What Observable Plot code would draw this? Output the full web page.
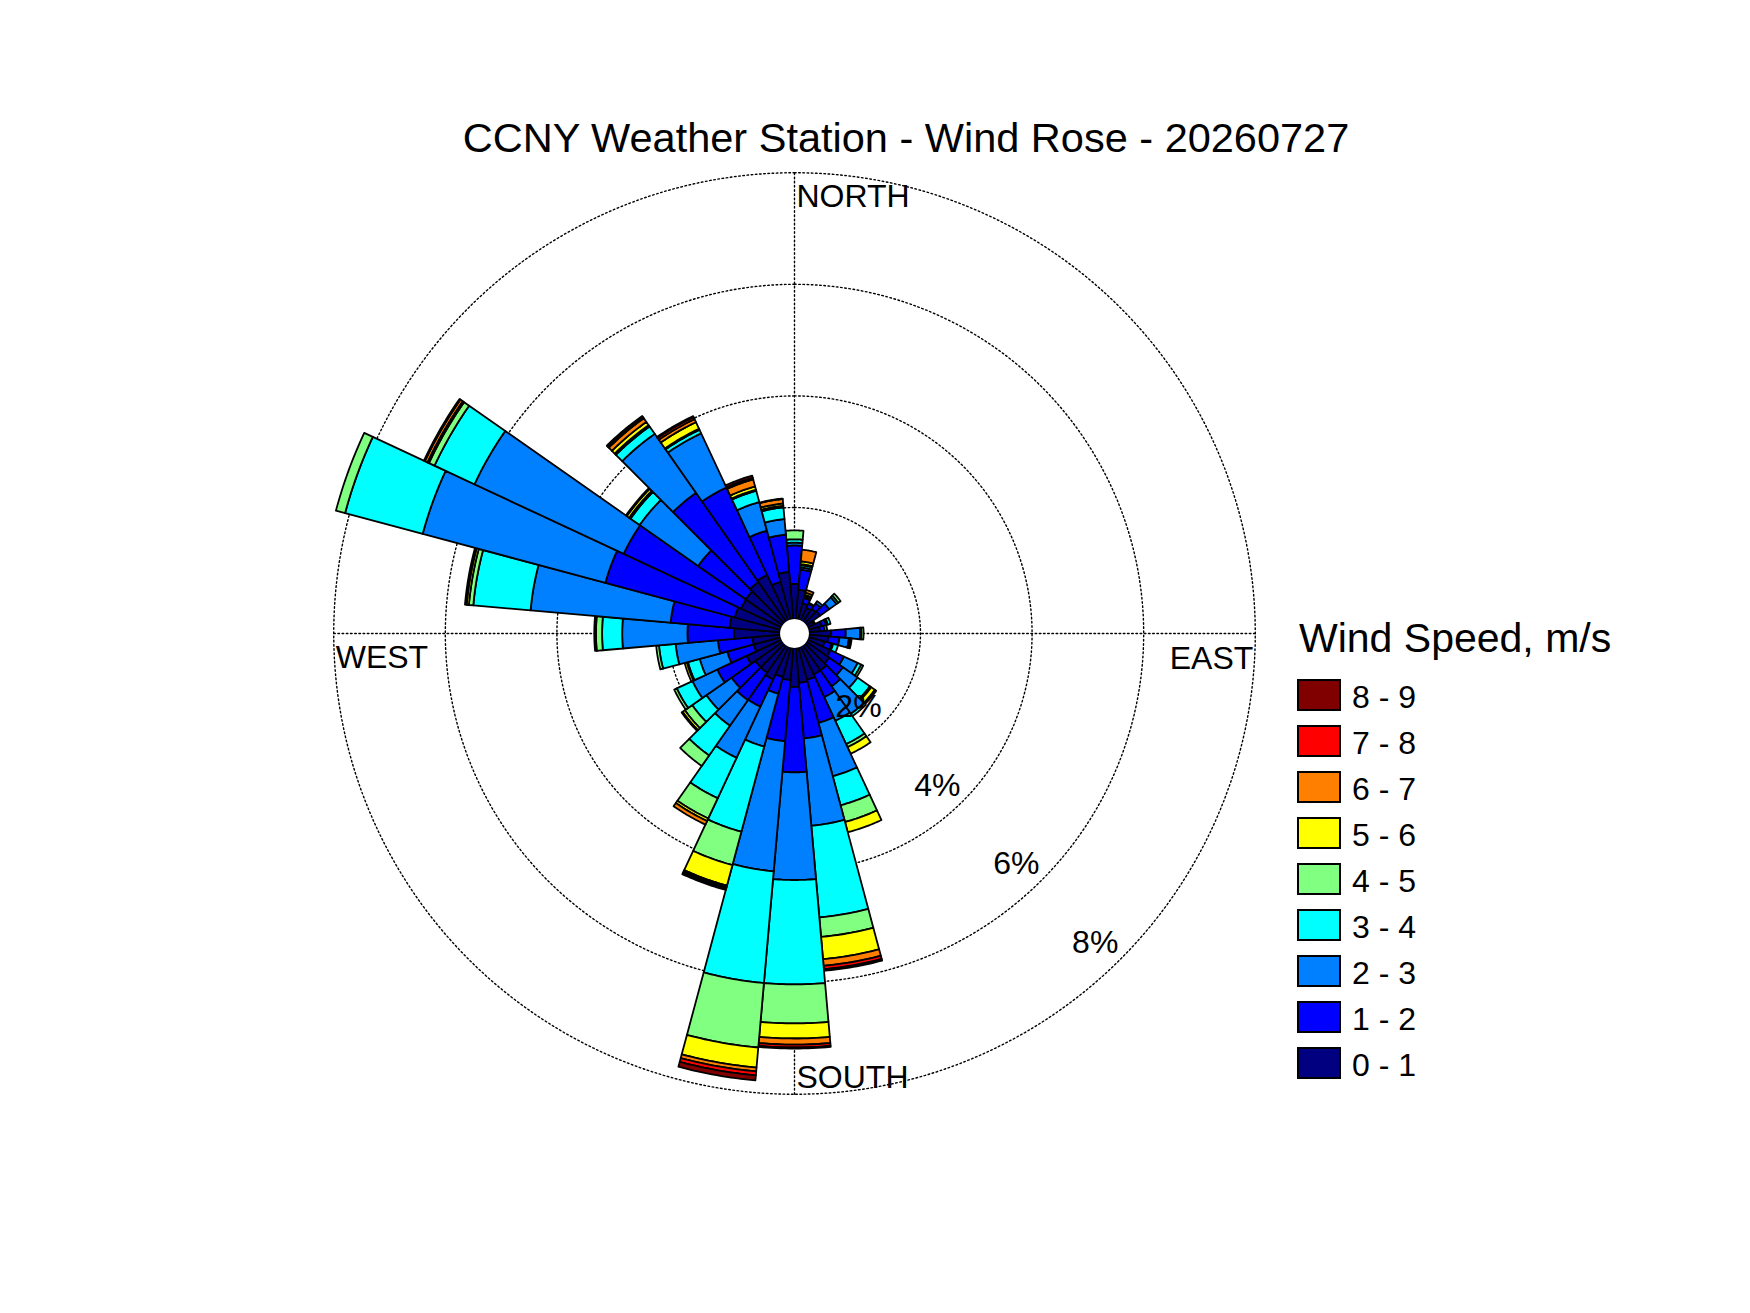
<!DOCTYPE html>
<html>
<head>
<meta charset="utf-8">
<script src="https://cdn.jsdelivr.net/npm/d3@7"></script>
<script src="https://cdn.jsdelivr.net/npm/@observablehq/plot@0.6"></script>
<style>
  html, body { margin: 0; padding: 0; background: #fff; }
  body { font-family: "Liberation Sans", Arial, Helvetica, sans-serif; color: #000; }
  #wrap { position: relative; width: 1750px; height: 1313px; overflow: hidden; }
  #chart { position: absolute; left: 0; top: 0; }
  .abs { position: absolute; white-space: nowrap; line-height: 1; }
  .sw { position: absolute; box-sizing: border-box; border: 2px solid #000; }
</style>
</head>
<body>
<div id="wrap"></div>
<script>
// ---------------- DATA ----------------
const title = "CCNY Weather Station - Wind Rose - 20260727";
const legendTitle = "Wind Speed, m/s";
const directions = [0, 10, 20, 30, 40, 50, 60, 70, 80, 90, 100, 110, 120, 130, 140, 150, 160, 170,
                    180, 190, 200, 210, 220, 230, 240, 250, 260, 270, 280, 290, 300, 310, 320, 330, 340, 350];
const speedBins = ["0 - 1", "1 - 2", "2 - 3", "3 - 4", "4 - 5", "5 - 6", "6 - 7", "7 - 8", "8 - 9"];
const binColors = ["#000080", "#0000FF", "#0080FF", "#00FFFF", "#80FF80", "#FFFF00", "#FF8000", "#FF0000", "#800000"];
// frequency (%) per direction for each speed bin
const speed0to1 = [0.63,0.53,0.30,0.25,0.28,0.30,0.12,0.25,0.20,0.40,0.35,0.30,0.45,0.50,0.55,0.55,0.60,0.63,
                   0.70,0.58,0.55,0.65,0.60,0.60,0.69,0.50,0.50,0.83,0.91,0.85,0.80,0.81,0.87,0.90,0.70,0.85];
const speed1to2 = [0.69,0.36,0.10,0.08,0.12,0.20,0.03,0.08,0.08,0.26,0.20,0.13,0.27,0.30,0.35,0.45,0.80,1.00,
                   1.53,1.10,0.31,0.54,0.60,0.52,0.58,0.49,0.62,0.83,1.06,2.40,2.32,1.04,1.95,1.73,0.95,0.67];
const speed2to3 = [0.05,0.04,0.03,0.02,0.05,0.16,0.00,0.03,0.05,0.26,0.17,0.03,0.27,0.32,0.60,0.47,0.99,1.57,
                   1.93,2.34,0.98,1.01,0.56,0.55,0.49,0.51,0.76,1.17,2.52,3.39,2.95,1.28,1.29,1.07,0.53,0.28];
const speed3to4 = [0.06,0.04,0.02,0.00,0.00,0.04,0.00,0.05,0.00,0.02,0.02,0.09,0.07,0.27,0.05,0.46,0.54,1.65,
                   1.87,2.01,1.58,0.80,0.65,0.31,0.31,0.22,0.30,0.36,1.03,1.44,0.79,0.20,0.16,0.07,0.21,0.21];
const speed4to5 = [0.16,0.02,0.01,0.00,0.00,0.05,0.00,0.00,0.00,0.04,0.03,0.00,0.04,0.03,0.00,0.06,0.31,0.35,
                   0.70,1.16,0.62,0.40,0.23,0.16,0.05,0.02,0.05,0.11,0.08,0.17,0.11,0.03,0.03,0.02,0.02,0.03];
const speed5to6 = [0.00,0.05,0.04,0.00,0.00,0.00,0.00,0.00,0.00,0.00,0.00,0.00,0.00,0.08,0.00,0.13,0.19,0.40,
                   0.27,0.36,0.38,0.05,0.00,0.05,0.00,0.04,0.00,0.03,0.04,0.00,0.03,0.05,0.07,0.13,0.06,0.04];
const speed6to7 = [0.00,0.21,0.05,0.00,0.00,0.00,0.00,0.00,0.00,0.00,0.00,0.00,0.00,0.03,0.00,0.00,0.00,0.12,
                   0.11,0.07,0.02,0.07,0.00,0.02,0.00,0.00,0.00,0.00,0.03,0.00,0.05,0.02,0.08,0.06,0.13,0.08];
const speed7to8 = [0.00,0.00,0.00,0.00,0.00,0.00,0.00,0.00,0.00,0.00,0.00,0.00,0.00,0.00,0.00,0.00,0.00,0.06,
                   0.05,0.07,0.03,0.00,0.00,0.00,0.00,0.00,0.00,0.00,0.00,0.00,0.02,0.00,0.02,0.04,0.03,0.01];
const speed8to9 = [0.00,0.00,0.00,0.00,0.00,0.00,0.00,0.00,0.00,0.00,0.00,0.00,0.00,0.00,0.00,0.00,0.00,0.03,
                   0.02,0.09,0.03,0.00,0.00,0.00,0.00,0.00,0.00,0.00,0.00,0.00,0.00,0.00,0.03,0.02,0.04,0.00];
const speedSeries = [speed0to1, speed1to2, speed2to3, speed3to4, speed4to5, speed5to6, speed6to7, speed7to8, speed8to9];
const ringValues = [2, 4, 6, 8];
const ringLabels = ["2%", "4%", "6%", "8%"];
const cardinalLabels = ["NORTH", "EAST", "SOUTH", "WEST"];

// ---------------- GEOMETRY (data space, % units) ----------------
const hole = 0.258;          // white centre, in % units
const sector = 10;           // angular width of each direction bin
const rMax = hole + 8;       // outer ring
const rad = (a) => a * Math.PI / 180;
function arc(r, a0, a1, n) {
  const pts = [];
  for (let i = 0; i <= n; i++) {
    const a = rad(a0 + (a1 - a0) * i / n);
    pts.push([r * Math.sin(a), r * Math.cos(a)]);
  }
  return pts;
}
const wedges = [];
directions.forEach((d, i) => {
  let acc = 0;
  speedSeries.forEach((series, k) => {
    const v = series[i];
    if (!(v > 0)) return;
    const a = acc, b = acc + v;
    acc = b;
    const outer = arc(hole + b, d - sector / 2, d + sector / 2, 16);
    const inner = arc(hole + a, d + sector / 2, d - sector / 2, 16);
    wedges.push({
      type: "Feature",
      properties: {bin: speedBins[k], dir: d},
      geometry: {type: "Polygon", coordinates: [[...outer, ...inner, outer[0]]]}
    });
  });
});
const outline = {type: "LineString", coordinates: arc(rMax, 0, 360, 240)};
const rings = ringValues.map((v) => ({type: "LineString", coordinates: arc(hole + v, 0, 360, 240)}));
const axesLines = [
  {type: "LineString", coordinates: [[-rMax, 0], [rMax, 0]]},
  {type: "LineString", coordinates: [[0, -rMax], [0, rMax]]}
];
const holeDisk = {type: "Polygon", coordinates: [arc(hole, 0, 360, 60)]};
const ringText = ringValues.map((v, i) => ({
  label: ringLabels[i],
  x: (hole + v) * Math.sin(rad(135)),
  y: (hole + v) * Math.cos(rad(135))
}));
const cardinals = [
  {label: cardinalLabels[0], x: 0, y: rMax, anchor: "start", line: "top", dx: 2, dy: 12},
  {label: cardinalLabels[1], x: rMax, y: 0, anchor: "end", line: "top", dx: -2, dy: 13},
  {label: cardinalLabels[2], x: 0, y: -rMax, anchor: "start", line: "bottom", dx: 2, dy: -6},
  {label: cardinalLabels[3], x: -rMax, y: 0, anchor: "start", line: "top", dx: 2, dy: 12}
];

// ---------------- LAYOUT ----------------
const W = 1750, H = 1313;
const cx = 794, cy = 633, Rpx = 460.8;
const font = "Liberation Sans, Arial, Helvetica, sans-serif";

const chart = Plot.plot({
  width: W,
  height: H,
  marginLeft: cx - Rpx,
  marginRight: W - cx - Rpx,
  marginTop: cy - Rpx,
  marginBottom: H - cy - Rpx,
  projection: {type: () => d3.geoIdentity().reflectY(true), domain: outline, clip: false},
  color: {type: "ordinal", domain: speedBins, range: binColors},
  style: {fontFamily: font, background: "white", overflow: "visible"},
  marks: [
    Plot.geo(axesLines, {stroke: "black", strokeWidth: 1.4, strokeDasharray: "1.6,2.6", fill: "none"}),
    Plot.geo(rings, {stroke: "black", strokeWidth: 1.4, strokeDasharray: "1.6,2.6", fill: "none"}),
    Plot.geo(wedges, {fill: (d) => d.properties.bin, stroke: "black", strokeWidth: 1.8, strokeLinejoin: "round"}),
    Plot.geo([holeDisk], {fill: "white", stroke: "none"}),
    ...cardinals.map((c) => Plot.text([c], {
      x: "x", y: "y", text: "label", textAnchor: c.anchor, lineAnchor: c.line,
      dx: c.dx, dy: c.dy, fontSize: 32, fill: "black"
    })),
    Plot.text(ringText, {x: "x", y: "y", text: "label", textAnchor: "end", lineAnchor: "bottom",
      dx: -2, dy: -6, fontSize: 32, fill: "black"})
  ]
});
chart.id = "chart";
const wrap = document.getElementById("wrap");
wrap.appendChild(chart);

// Title
const t = document.createElement("div");
t.className = "abs";
t.textContent = title;
t.style.fontSize = "41.5px";
t.style.left = "0px";
t.style.width = "1812px";
t.style.textAlign = "center";
t.style.top = "117px";
wrap.appendChild(t);

// Legend (colors from the chart's own color scale)
const color = chart.scale("color");
const lt = document.createElement("div");
lt.className = "abs";
lt.textContent = legendTitle;
lt.style.fontSize = "41px";
lt.style.left = "1299px";
lt.style.top = "618px";
wrap.appendChild(lt);
const order = color.domain.slice().reverse();
order.forEach((bin, i) => {
  const idx = color.domain.indexOf(bin);
  const sw = document.createElement("div");
  sw.className = "sw";
  sw.style.left = "1297px";
  sw.style.top = (679 + 46 * i) + "px";
  sw.style.width = "44px";
  sw.style.height = "32px";
  sw.style.background = color.range[idx];
  wrap.appendChild(sw);
  const lb = document.createElement("div");
  lb.className = "abs";
  lb.textContent = bin;
  lb.style.fontSize = "32px";
  lb.style.left = "1352px";
  lb.style.top = (681 + 46 * i) + "px";
  wrap.appendChild(lb);
});
</script>
</body>
</html>
